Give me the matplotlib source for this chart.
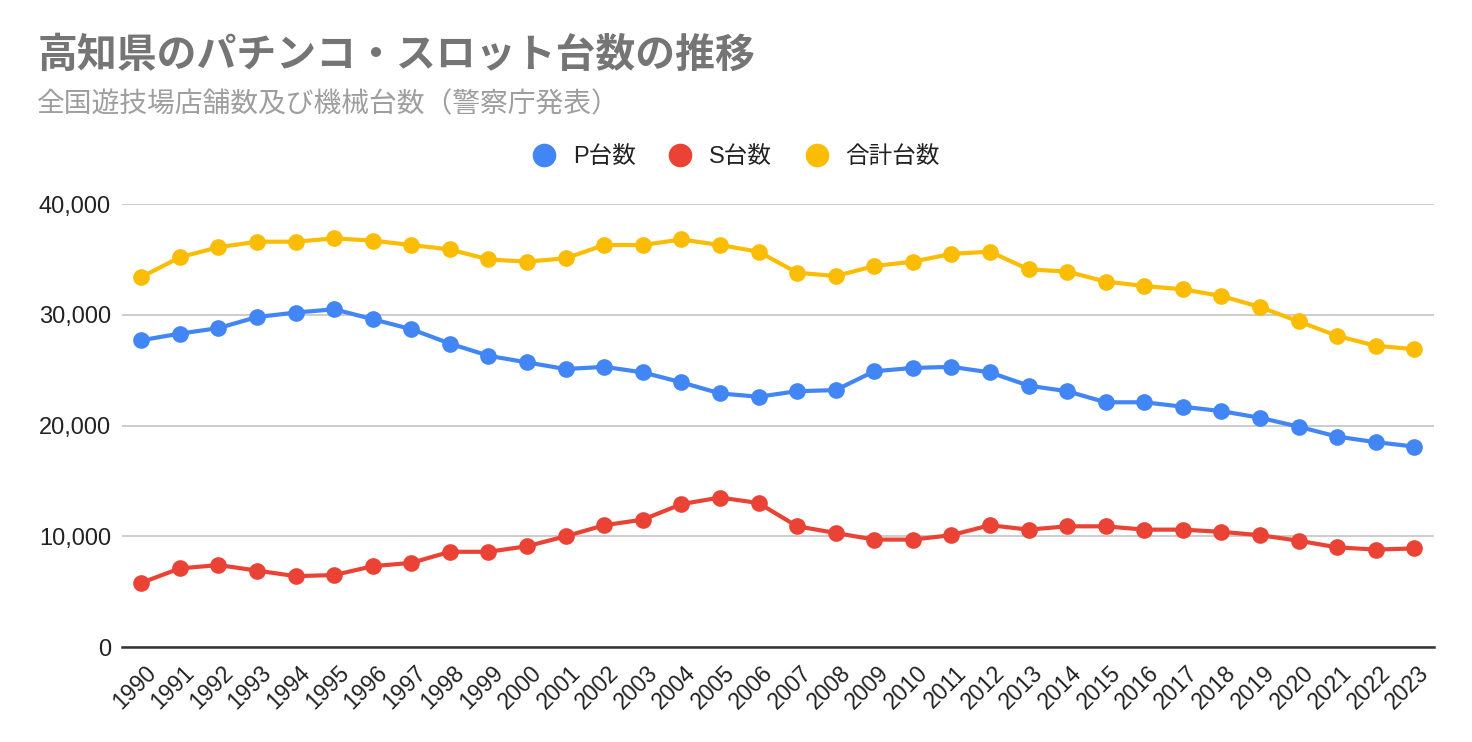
import numpy as np
import matplotlib
matplotlib.use("Agg")
import matplotlib.pyplot as plt
import matplotlib.transforms as mtransforms
from matplotlib.ticker import FuncFormatter

plt.rcParams["font.family"] = ["Liberation Sans", "Noto Sans CJK JP"]

years = list(range(1990, 2024))
p_units = [27700, 28300, 28800, 29800, 30200, 30500, 29600, 28700, 27400, 26300,
           25700, 25100, 25300, 24800, 23900, 22900, 22600, 23100, 23200, 24900,
           25200, 25300, 24800, 23600, 23100, 22100, 22100, 21700, 21300, 20700,
           19900, 19000, 18500, 18100]
s_units = [5800, 7100, 7400, 6900, 6400, 6500, 7300, 7600, 8600, 8600,
           9100, 10000, 11000, 11500, 12900, 13500, 13000, 10900, 10300, 9700,
           9700, 10100, 11000, 10600, 10900, 10900, 10600, 10600, 10400, 10100,
           9600, 9000, 8800, 8900]
total_units = [33400, 35200, 36100, 36600, 36600, 36900, 36700, 36300, 35900, 35000,
               34800, 35100, 36300, 36300, 36800, 36300, 35700, 33800, 33500, 34400,
               34800, 35500, 35700, 34100, 33900, 33000, 32600, 32300, 31700, 30700,
               29400, 28100, 27200, 26900]

series = [("P台数", p_units, "#4285F4"),
          ("S台数", s_units, "#EA4335"),
          ("合計台数", total_units, "#FBBC04")]

fig = plt.figure(figsize=(14.72, 7.42), dpi=100)
ax = fig.add_axes([0.0829, 0.128, 0.891, 0.597])

x = np.arange(len(years))
handles = []
for name, vals, col in series:
    h, = ax.plot(x, vals, color=col, linewidth=3, marker="o", markersize=12,
                 markeredgewidth=0, label=name, solid_capstyle="round")
    handles.append(h)

ax.set_xlim(-0.5, len(years) - 0.5)
ax.set_ylim(0, 40000)
ax.set_yticks([0, 10000, 20000, 30000, 40000])
ax.yaxis.set_major_formatter(FuncFormatter(lambda v, _: f"{int(v):,}"))
ax.set_xticks(x)
ax.set_xticklabels([str(y) for y in years], rotation=45, ha="right", va="top",
                   rotation_mode="anchor")
ax.tick_params(axis="both", length=0, colors="#222222")
ax.tick_params(axis="y", pad=8, labelsize=17)
ax.tick_params(axis="x", pad=10.5, labelsize=16.5)
# nudge the rotated year labels so their ends sit just right of each tick
shift = mtransforms.ScaledTranslation(3 / 100, 0, fig.dpi_scale_trans)
for lbl in ax.get_xticklabels():
    lbl.set_transform(lbl.get_transform() + shift)
ax.grid(axis="y", color="#cccccc", linewidth=1.4)
ax.set_axisbelow(True)
for sp in ["top", "right", "left"]:
    ax.spines[sp].set_visible(False)
ax.spines["bottom"].set_color("#333333")
ax.spines["bottom"].set_linewidth(1.8)

fig.text(38 / 1472, 1 - 55 / 742, "高知県のパチンコ・スロット台数の推移",
         fontsize=28.7, fontweight="bold", color="#757575", va="center",
         family=["Noto Sans CJK JP", "DejaVu Sans"])
fig.text(37 / 1472, 1 - 104 / 742, "全国遊技場店舗数及び機械台数（警察庁発表）",
         fontsize=20, color="#9e9e9e", va="center",
         family=["Noto Sans CJK JP", "DejaVu Sans"])

fig.legend(handles=handles, loc="center", bbox_to_anchor=(736 / 1472, 1 - 157 / 742),
           ncol=3, frameon=False, fontsize=17, handlelength=1.0, handletextpad=0.7,
           columnspacing=1.4, labelcolor="#222222")
for h in fig.legends[0].legend_handles:
    h.set_linestyle("none")
    h.set_markersize(17)

fig.savefig("out.png", dpi=100)
